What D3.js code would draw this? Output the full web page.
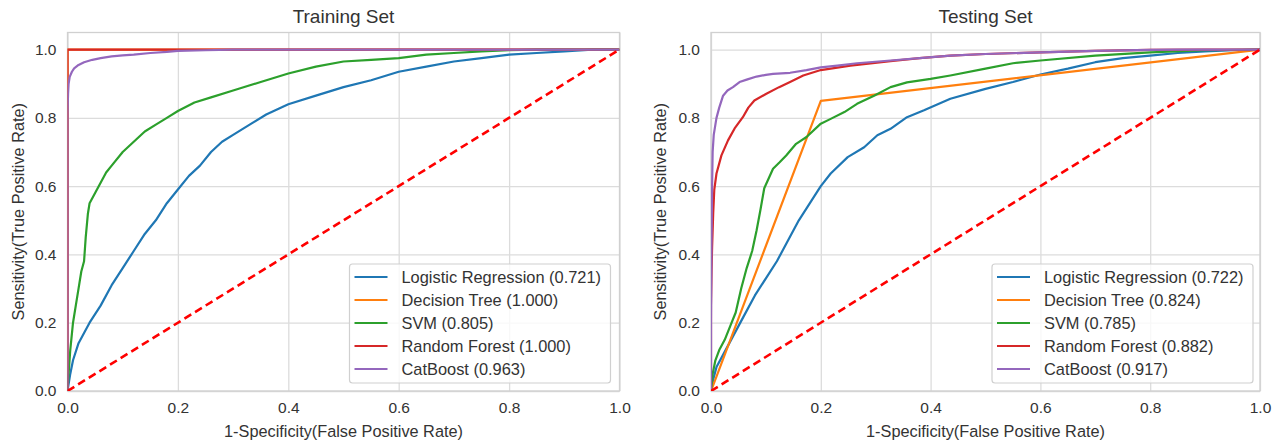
<!DOCTYPE html>
<html><head><meta charset="utf-8">
<script src="https://cdn.jsdelivr.net/npm/d3@7"></script>
<style>body{margin:0;background:#fff} text{font-family:Arial,"Liberation Sans",sans-serif;fill:#333}</style>
</head><body><svg id="c" width="1279" height="443"></svg>
<script>
const models = ["Logistic Regression","Decision Tree","SVM","Random Forest","CatBoost"];
const colors = ["#1f77b4","#ff7f0e","#2ca02c","#d62728","#9467bd"];
const trainAUC = ["0.721","1.000","0.805","1.000","0.963"];
const testAUC = ["0.722","0.824","0.785","0.882","0.917"];
const xTicks = [0,0.2,0.4,0.6,0.8,1.0];
const yTicks = [0,0.2,0.4,0.6,0.8,1.0];

// Training set ROC points [fpr, tpr]
const trainLR = [[0,0],[0.005,0.05],[0.01,0.09],[0.02,0.14],[0.03,0.17],[0.04,0.2],[0.05,0.225],[0.06,0.25],[0.08,0.31],[0.1,0.36],[0.12,0.41],[0.14,0.46],[0.16,0.5],[0.18,0.55],[0.2,0.59],[0.22,0.63],[0.24,0.66],[0.26,0.7],[0.28,0.73],[0.3,0.75],[0.33,0.78],[0.36,0.81],[0.4,0.84],[0.45,0.865],[0.5,0.89],[0.55,0.91],[0.6,0.935],[0.65,0.95],[0.7,0.965],[0.75,0.975],[0.8,0.985],[0.85,0.99],[0.9,0.995],[0.95,1.0],[1,1]];
const trainDT = [[0,0],[0,1],[1,1]];
const trainSVM = [[0,0],[0.002,0.05],[0.005,0.12],[0.01,0.2],[0.015,0.25],[0.02,0.3],[0.025,0.35],[0.03,0.38],[0.033,0.45],[0.037,0.52],[0.04,0.55],[0.05,0.58],[0.06,0.61],[0.07,0.64],[0.08,0.66],[0.1,0.7],[0.12,0.73],[0.14,0.76],[0.16,0.78],[0.18,0.8],[0.2,0.82],[0.23,0.845],[0.26,0.86],[0.3,0.88],[0.35,0.905],[0.4,0.93],[0.45,0.95],[0.5,0.965],[0.55,0.97],[0.6,0.975],[0.65,0.985],[0.7,0.99],[0.75,0.995],[0.8,0.998],[0.85,1.0],[1,1]];
const trainRF = [[0,0],[0,1],[1,1]];
const trainCB = [[0,0],[0,0.81],[0.001,0.87],[0.002,0.9],[0.004,0.92],[0.008,0.935],[0.012,0.945],[0.02,0.955],[0.03,0.963],[0.045,0.97],[0.06,0.975],[0.08,0.98],[0.1,0.983],[0.12,0.985],[0.15,0.99],[0.18,0.993],[0.2,0.996],[0.25,0.998],[0.3,1.0],[1,1]];

// Testing set ROC points [fpr, tpr]
const testLR = [[0,0],[0.005,0.04],[0.01,0.07],[0.02,0.1],[0.03,0.13],[0.04,0.16],[0.05,0.19],[0.06,0.22],[0.08,0.28],[0.1,0.33],[0.12,0.38],[0.14,0.44],[0.16,0.5],[0.188,0.57],[0.2,0.6],[0.218,0.637],[0.249,0.685],[0.279,0.714],[0.303,0.749],[0.327,0.768],[0.357,0.802],[0.388,0.822],[0.436,0.856],[0.5,0.885],[0.55,0.905],[0.6,0.927],[0.65,0.944],[0.7,0.963],[0.75,0.975],[0.8,0.982],[0.85,0.99],[0.9,0.995],[0.95,0.998],[1,1]];
const testDT = [[0,0],[0.2,0.85],[1,1]];
const testSVM = [[0,0],[0.003,0.05],[0.008,0.09],[0.015,0.12],[0.025,0.15],[0.035,0.19],[0.045,0.23],[0.055,0.3],[0.065,0.36],[0.075,0.41],[0.083,0.47],[0.09,0.53],[0.097,0.594],[0.113,0.651],[0.125,0.67],[0.137,0.69],[0.155,0.724],[0.174,0.744],[0.2,0.783],[0.218,0.797],[0.243,0.817],[0.266,0.841],[0.297,0.865],[0.327,0.89],[0.357,0.904],[0.4,0.914],[0.436,0.924],[0.5,0.944],[0.55,0.96],[0.6,0.968],[0.7,0.982],[0.8,0.992],[0.9,0.998],[1,1]];
const testRF = [[0,0],[0,0.25],[0.001,0.35],[0.002,0.42],[0.004,0.52],[0.006,0.59],[0.01,0.637],[0.019,0.69],[0.031,0.734],[0.043,0.769],[0.058,0.802],[0.068,0.83],[0.079,0.851],[0.1,0.87],[0.124,0.89],[0.144,0.905],[0.168,0.924],[0.2,0.94],[0.254,0.953],[0.327,0.966],[0.38,0.975],[0.436,0.982],[0.5,0.987],[0.6,0.992],[0.7,0.996],[0.8,0.999],[0.9,1.0],[1,1]];
const testCB = [[0,0],[0,0.2],[0.001,0.45],[0.002,0.6],[0.003,0.7],[0.005,0.75],[0.008,0.78],[0.01,0.8],[0.015,0.83],[0.022,0.865],[0.03,0.88],[0.04,0.89],[0.052,0.905],[0.065,0.912],[0.083,0.921],[0.1,0.926],[0.113,0.929],[0.144,0.932],[0.174,0.94],[0.2,0.948],[0.23,0.953],[0.266,0.96],[0.327,0.968],[0.38,0.975],[0.436,0.982],[0.5,0.987],[0.6,0.992],[0.7,0.996],[0.8,0.999],[0.85,1.0],[1,1]];
const diagonal = [[0,0],[1,1]];

const panels = [
  {title:"Training Set", curves:[trainLR,trainDT,trainSVM,trainRF,trainCB], auc:trainAUC, left:67.5, right:619.5, ylabX:18, legInset:9},
  {title:"Testing Set", curves:[testLR,testDT,testSVM,testRF,testCB], auc:testAUC, left:711, right:1260, ylabX:660, legInset:7}
];
const plotTop = 32.5, plotBottom = 391;
const svg = d3.select("#c");
svg.append("rect").attr("width",1279).attr("height",443).attr("fill","#fff");
const fmt = d3.format(".1f");

panels.forEach((p,pi) => {
  const x = d3.scaleLinear().domain([0,1]).range([p.left,p.right]);
  const y = d3.scaleLinear().domain([0,1.05]).range([plotBottom,plotTop]);
  const g = svg.append("g");
  const clipId = "clip"+pi;
  svg.append("clipPath").attr("id",clipId).append("rect")
    .attr("x",p.left).attr("y",plotTop).attr("width",p.right-p.left).attr("height",plotBottom-plotTop);

  const gx = g.append("g").attr("transform",`translate(0,${plotBottom})`)
    .call(d3.axisBottom(x).tickValues(xTicks).tickSize(-(plotBottom-plotTop)).tickFormat(fmt).tickPadding(8));
  const gy = g.append("g").attr("transform",`translate(${p.left},0)`)
    .call(d3.axisLeft(y).tickValues(yTicks).tickSize(-(p.right-p.left)).tickFormat(fmt).tickPadding(11));
  [gx,gy].forEach(a => {
    a.select(".domain").remove();
    a.selectAll(".tick line").attr("stroke","#dcdcdc").attr("stroke-width",1.3);
    a.selectAll(".tick text").attr("font-size","15.5px").style("fill","#333");
  });
  gx.selectAll(".tick text").attr("dy","0.9em");

  g.append("rect").attr("x",p.left).attr("y",plotTop).attr("width",p.right-p.left).attr("height",plotBottom-plotTop)
    .attr("fill","none").attr("stroke","#d0d0d0").attr("stroke-width",1.3);

  const line = d3.line().x(d=>x(d[0])).y(d=>y(d[1]));
  const lg = g.append("g").attr("clip-path",`url(#${clipId})`);
  p.curves.forEach((c,i) => {
    lg.append("path").datum(c).attr("d",line).attr("fill","none")
      .attr("stroke",colors[i]).attr("stroke-width",2.2).attr("stroke-linejoin","round");
  });
  lg.append("path").datum(diagonal).attr("d",line).attr("fill","none")
    .attr("stroke","#ff0000").attr("stroke-width",2.6).attr("stroke-dasharray","8,4.5");

  svg.append("text").attr("x",(p.left+p.right)/2).attr("y",23).attr("text-anchor","middle")
    .attr("font-size","19px").text(p.title);
  svg.append("text").attr("x",(p.left+p.right)/2).attr("y",437).attr("text-anchor","middle")
    .attr("font-size","16.3px").text("1-Specificity(False Positive Rate)");
  svg.append("text").attr("transform",`translate(${p.ylabX},${(plotTop+plotBottom)/2}) rotate(-90)`)
    .attr("text-anchor","middle").attr("dominant-baseline","central")
    .attr("font-size","16.3px").text("Sensitivity(True Positive Rate)");

  const lw = 261, lh = 119;
  const lx = p.right - p.legInset - lw, ly = 264;
  const leg = svg.append("g");
  leg.append("rect").attr("x",lx).attr("y",ly).attr("width",lw).attr("height",lh).attr("rx",3)
    .attr("fill","#fff").attr("fill-opacity",0.8).attr("stroke","#d0d0d0").attr("stroke-width",1.2);
  models.forEach((m,i) => {
    const yy = ly + 13 + i*23;
    leg.append("line").attr("x1",lx+5).attr("x2",lx+38).attr("y1",yy).attr("y2",yy)
      .attr("stroke",colors[i]).attr("stroke-width",2.2);
    leg.append("text").attr("x",lx+52).attr("y",yy).attr("dominant-baseline","central")
      .attr("font-size","16.4px").text(`${m} (${p.auc[i]})`);
  });
});
</script></body></html>
